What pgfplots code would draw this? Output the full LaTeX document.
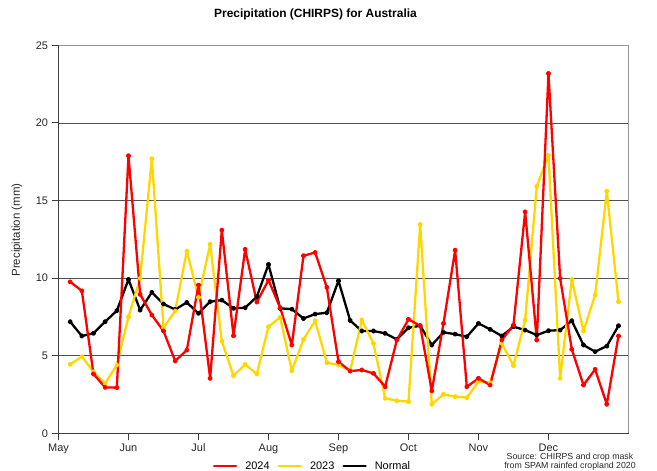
\documentclass[border=0pt]{standalone}
\usepackage{pgfplots}
\pgfplotsset{compat=1.18}
\usepackage{fontspec}
\setmainfont{Liberation Sans}
\definecolor{cred}{RGB}{255,0,0}
\definecolor{cyel}{RGB}{255,215,0}
\definecolor{gridc}{RGB}{80,80,80}
\definecolor{framec}{RGB}{150,150,150}
\definecolor{txtc}{RGB}{40,40,40}
\begin{document}
\begin{tikzpicture}
\useasboundingbox (0,0) rectangle (657bp,471bp);
\begin{axis}[
  at={(58.5bp,37.7bp)}, anchor=south west,
  scale only axis, width=570bp, height=388bp,
  xmin=0, xmax=48.86, ymin=0, ymax=25,
  xtick={0,6,12,18,24,30,36,42},
  xticklabels={May,Jun,Jul,Aug,Sep,Oct,Nov,Dec},
  ytick={0,5,10,15,20,25},
  axis lines*=left,
  axis line style={-, draw=black!75, line width=0.8bp},
  tick align=outside, major tick length=7bp,
  tick style={draw=black!75, line width=0.8bp},
  ymajorgrids, grid style={draw=gridc, line width=0.7bp},
  ticklabel style={font=\fontsize{11}{12}\selectfont, text=txtc},
  /pgf/number format/assume math mode=true,
  clip=false,
  legend columns=3,
  legend style={at={(axis description cs:0.4456,-0.0843)}, anchor=center, draw=none, fill=none,
    font=\fontsize{11}{12}\selectfont, column sep=6bp, inner sep=0pt},
  legend image code/.code={\draw[#1, line width=2.4bp] (0bp,0bp) -- (22bp,0bp);},
  every axis plot/.append style={line join=round, line cap=round},
]
\addlegendimage{cred}\addlegendentry{2024}
\addlegendimage{cyel}\addlegendentry{2023}
\addlegendimage{black}\addlegendentry{Normal}
\draw[framec, line width=1.3bp] (rel axis cs:0,1) -- (rel axis cs:1,1) -- (rel axis cs:1,0);
\addplot[forget plot, black, line width=2.3bp, line join=round, mark=*, mark size=1.5bp] coordinates {
(1,7.19)(2,6.27)(3,6.44)(4,7.19)(5,7.90)(6,9.91)(7,7.94)(8,9.08)(9,8.33)(10,7.98)
(11,8.43)(12,7.73)(13,8.48)(14,8.58)(15,8.05)(16,8.09)(17,8.80)(18,10.88)(19,8.05)(20,8.00)
(21,7.40)(22,7.68)(23,7.77)(24,9.83)(25,7.27)(26,6.59)(27,6.59)(28,6.44)(29,6.05)(30,6.80)
(31,6.93)(32,5.69)(33,6.50)(34,6.39)(35,6.22)(36,7.08)(37,6.70)(38,6.27)(39,6.87)(40,6.65)
(41,6.33)(42,6.61)(43,6.65)(44,7.25)(45,5.69)(46,5.26)(47,5.62)(48,6.93)};
\addplot[forget plot, cyel, line width=2.3bp, line join=round, mark=*, mark size=1.5bp] coordinates {
(1,4.44)(2,4.94)(3,3.97)(4,3.22)(5,4.40)(6,7.51)(7,9.98)(8,17.70)(9,6.80)(10,7.88)
(11,11.74)(12,8.76)(13,12.17)(14,5.94)(15,3.71)(16,4.44)(17,3.82)(18,6.87)(19,7.47)(20,4.03)
(21,6.05)(22,7.25)(23,4.55)(24,4.40)(25,4.03)(26,7.30)(27,5.79)(28,2.25)(29,2.10)(30,2.04)
(31,13.45)(32,1.87)(33,2.51)(34,2.36)(35,2.30)(36,3.33)(37,3.26)(38,5.79)(39,4.36)(40,7.30)
(41,15.92)(42,17.92)(43,3.54)(44,9.91)(45,6.59)(46,8.91)(47,15.60)(48,8.48)};
\addplot[forget plot, cred, line width=2.3bp, line join=round, mark=*, mark size=1.5bp] coordinates {
(1,9.76)(2,9.18)(3,3.82)(4,2.96)(5,2.94)(6,17.88)(7,8.95)(8,7.62)(9,6.59)(10,4.66)
(11,5.36)(12,9.55)(13,3.54)(14,13.09)(15,6.29)(16,11.85)(17,8.45)(18,9.87)(19,8.09)(20,5.69)
(21,11.44)(22,11.65)(23,9.40)(24,4.61)(25,4.01)(26,4.08)(27,3.86)(28,3.00)(29,6.01)(30,7.34)
(31,6.93)(32,2.73)(33,7.08)(34,11.80)(35,3.00)(36,3.54)(37,3.11)(38,6.01)(39,6.97)(40,14.27)
(41,6.01)(42,23.18)(43,9.98)(44,5.41)(45,3.11)(46,4.12)(47,1.87)(48,6.27)};
\end{axis}
\node[font=\fontsize{12}{14}\selectfont\bfseries] at (315.5bp,457bp) {Precipitation (CHIRPS) for Australia};
\node[rotate=90, font=\fontsize{11.5}{13}\selectfont, text=txtc] at (17bp,241bp) {Precipitation (mm)};
\node[align=center, font=\fontsize{8.8}{9.5}\selectfont, text=txtc] at (570bp,9bp) {Source: CHIRPS and crop mask\\from SPAM rainfed cropland 2020};
\end{tikzpicture}
\end{document}
